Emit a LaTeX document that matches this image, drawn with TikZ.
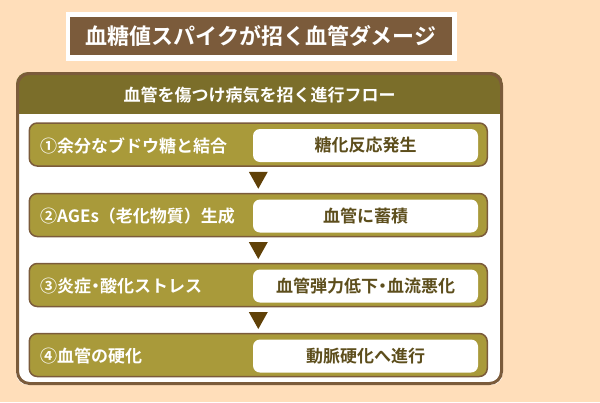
\documentclass[tikz,border=0pt]{standalone}
\usepackage{fontspec}
\setmainfont{Noto Sans CJK JP}[BoldFont={Noto Sans CJK JP Bold}]
\definecolor{peach}{HTML}{FFDEBA}
\definecolor{titlebrown}{HTML}{7B5B3B}
\definecolor{headolive}{HTML}{7B6E2A}
\definecolor{rowgold}{HTML}{A99A3A}
\definecolor{arrowbrown}{HTML}{604108}
\definecolor{boxtext}{HTML}{5D4E1C}
\newcommand{\hdot}{\makebox[9pt]{・}}
\tikzset{
  rowbox/.style={draw=titlebrown, line width=1.5pt, fill=rowgold, rounded corners=8pt,
    minimum width=458pt, minimum height=43pt, inner sep=0pt},
  resbox/.style={fill=white, rounded corners=7pt, minimum width=225pt, minimum height=33pt,
    inner sep=0pt, text=boxtext, font=\bfseries\fontsize{17}{17}\selectfont},
  rowlabel/.style={anchor=west, inner sep=0pt, text=white, font=\bfseries\fontsize{17}{17}\selectfont},
  downtri/.style={fill=arrowbrown}
}
\begin{document}
\begin{tikzpicture}[x=1pt,y=-1pt]
\useasboundingbox[fill=peach] (0,0) rectangle (600,402);
% title
\fill[white] (66,12) rectangle (457,61);
\node[fill=titlebrown, minimum width=382pt, minimum height=38pt, inner sep=0pt,
  text=white, font=\bfseries\fontsize{22}{22}\selectfont] (title) at (261,36) {血糖値スパイクが招く血管ダメージ};
% panel
\begin{scope}
\clip[rounded corners=12pt] (16,72) rectangle (503,385);
\fill[white] (16,72) rectangle (503,385);
\fill[headolive] (16,72) rectangle (503,114);
\end{scope}
\draw[titlebrown, line width=3pt, rounded corners=12pt] (17.5,73.5) rectangle (501.5,383.5);
\node[text=white, font=\bfseries\fontsize{17}{17}\selectfont, inner sep=0pt] (head) at (259.5,95) {血管を傷つけ病気を招く進行フロー};
% rows
\foreach \i/\y/\lab/\res in {1/144.5/①余分なブドウ糖と結合/糖化反応発生,
                            2/215/②AGEs（老化物質）生成/血管に蓄積,
                            3/285/③炎症\hdot 酸化ストレス/血管弾力低下\hdot 血流悪化,
                            4/355/④血管の硬化/動脈硬化へ進行}{
  \node[rowbox] (row\i) at (258.25,\y) {};
  \node[resbox] (res\i) at (365.5,\y+1) {\res};
  \node[rowlabel] (lab\i) at (40,\y+1) {\lab};
}
% arrows
\foreach \a/\b in {1/2,2/3,3/4}{
  \path (row\a.south) -- (row\b.north) coordinate[pos=0.5] (m\a);
  \fill[downtri] ([xshift=-9.5pt,yshift=8pt]m\a-|res\a.west) ++(5.5pt,0) coordinate (t\a)
     -- ++(19pt,0) -- ++(-9.5pt,-17pt) -- cycle;
}
\end{tikzpicture}
\end{document}
